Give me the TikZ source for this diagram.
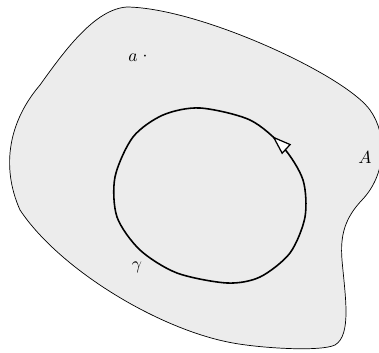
\documentclass[tikz,border=0pt]{standalone}
\usepackage{amsmath,amssymb}
\usepackage{xcolor}
\usepackage{tikz}
\usetikzlibrary{arrows.meta,decorations.markings}

\begin{document}
\begin{tikzpicture}[
  x=0.02cm, y=-0.02cm,
  region/.style={draw, thin, fill=gray!15},
  loop/.style={draw, line width=0.9pt,
    postaction={decorate, decoration={markings,
      mark=at position 0.797 with {\arrow{Triangle[length=11pt, width=7.5pt, fill=white, line width=0.7pt]}}}}},
  lbl/.style={inner sep=1pt}
]
\useasboundingbox (0,0) rectangle (379,352);

% the region A
\path[region] (127,7) .. controls (200,8) and (345,75) .. (370,110)
  .. controls (388,135) and (386,175) .. (362,200)
  .. controls (345,218) and (340,235) .. (342,260)
  .. controls (345,295) and (352,335) .. (335,345)
  .. controls (320,352) and (260,348) .. (233,343)
  .. controls (160,330) and (60,270) .. (20,210)
  .. controls (0,165) and (10,120) .. (40,85)
  .. controls (65,50) and (95,9) .. (127,7) -- cycle;

% the closed curve
\path[loop] plot[smooth cycle] coordinates {
  (200,108) (163,115) (133,137) (115,177) (117,217) (140,250)
  (177,273) (227,283) (260,277) (290,253) (305,217) (303,180)
  (283,147) (250,120)};

\node[lbl] (a) at (133,58) {$a$};
\node[lbl] (dot) at (145,57) {$\cdot$};
\node[lbl] (A) at (365,157) {$A$};
\node[lbl] (gamma) at (137,267) {$\gamma$};
\end{tikzpicture}
\end{document}
